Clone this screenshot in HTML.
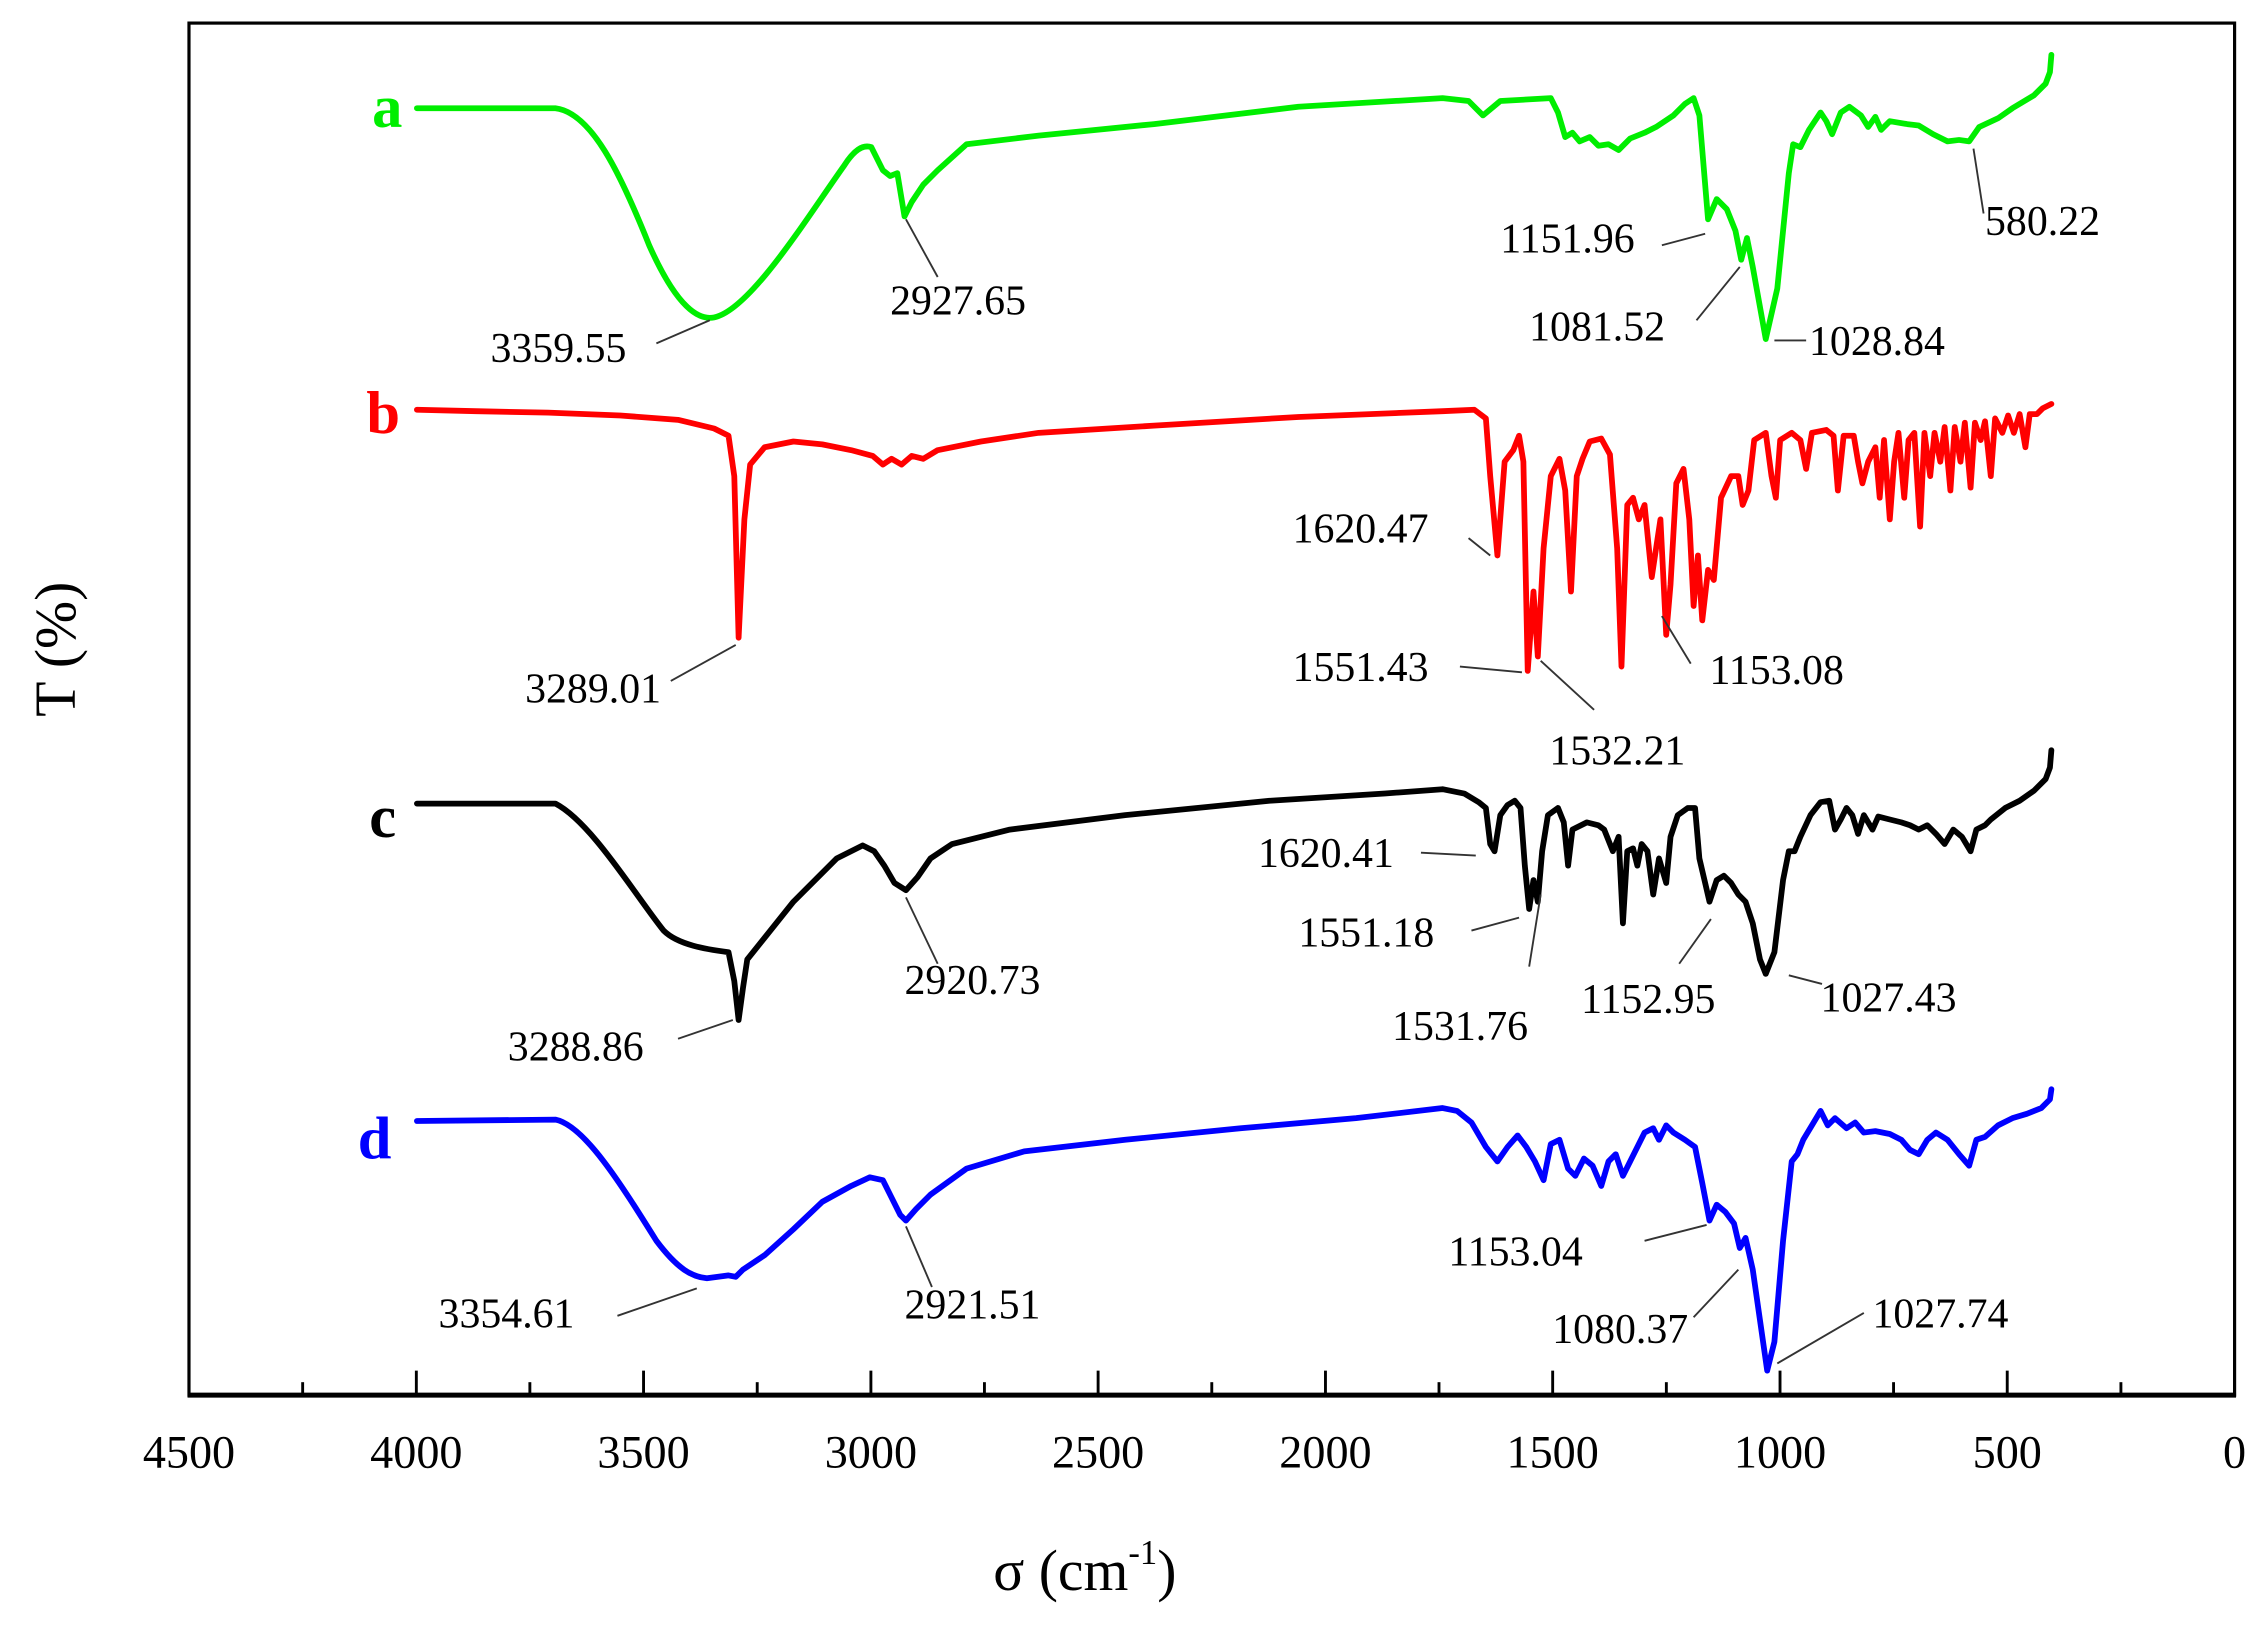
<!DOCTYPE html>
<html><head><meta charset="utf-8"><style>
html,body{margin:0;padding:0;background:#fff;}
svg{display:block;}
text{font-family:"Liberation Serif",serif;}
</style></head><body>
<svg width="2262" height="1626" viewBox="0 0 1568 1127" preserveAspectRatio="none" xmlns="http://www.w3.org/2000/svg">
<rect x="0" y="0" width="1568" height="1127" fill="#fff"/>
<rect x="131" y="16" width="1418" height="951" fill="none" stroke="#000" stroke-width="2.2"/>
<line x1="130" y1="967" x2="1550" y2="967" stroke="#000" stroke-width="3.5"/>
<g stroke="#000" stroke-width="2">
<line x1="131" y1="967" x2="131" y2="950"/><line x1="288.6" y1="967" x2="288.6" y2="950"/><line x1="446.1" y1="967" x2="446.1" y2="950"/><line x1="603.7" y1="967" x2="603.7" y2="950"/><line x1="761.2" y1="967" x2="761.2" y2="950"/><line x1="918.8" y1="967" x2="918.8" y2="950"/><line x1="1076.3" y1="967" x2="1076.3" y2="950"/><line x1="1233.9" y1="967" x2="1233.9" y2="950"/><line x1="1391.4" y1="967" x2="1391.4" y2="950"/>
<line x1="209.8" y1="967" x2="209.8" y2="958"/><line x1="367.3" y1="967" x2="367.3" y2="958"/><line x1="524.9" y1="967" x2="524.9" y2="958"/><line x1="682.4" y1="967" x2="682.4" y2="958"/><line x1="840" y1="967" x2="840" y2="958"/><line x1="997.5" y1="967" x2="997.5" y2="958"/><line x1="1155.1" y1="967" x2="1155.1" y2="958"/><line x1="1312.6" y1="967" x2="1312.6" y2="958"/><line x1="1470.2" y1="967" x2="1470.2" y2="958"/>
</g>
<g font-size="32" text-anchor="middle" fill="#000">
<text x="131" y="1017">4500</text><text x="288.6" y="1017">4000</text><text x="446.1" y="1017">3500</text><text x="603.7" y="1017">3000</text><text x="761.2" y="1017">2500</text><text x="918.8" y="1017">2000</text><text x="1076.3" y="1017">1500</text><text x="1233.9" y="1017">1000</text><text x="1391.4" y="1017">500</text><text x="1549" y="1017">0</text>
</g>
<text x="752" y="1102" font-size="40" text-anchor="middle">σ (cm<tspan font-size="24" dy="-18">-1</tspan><tspan dy="18">)</tspan></text>
<text transform="translate(52,450) rotate(-90)" font-size="40" text-anchor="middle">T (%)</text>
<g font-size="42" font-weight="bold">
<text x="258" y="88" fill="#00ee00">a</text>
<text x="254" y="300" fill="#ff0000">b</text>
<text x="256" y="580" fill="#000">c</text>
<text x="248" y="803" fill="#0000ff">d</text>
</g>
<g fill="none" stroke-width="4" stroke-linejoin="round" stroke-linecap="round">
<path stroke="#00ee00" d="M289,75 L385,75 C410,78 430,120 450,170 C470,215 485,222 495,220 C520,215 560,150 585,115 C592,104 598,100 604,102 L612,118 L617,122 L622,120 L627,150 L632,140 L640,128 L650,118 L670,100 L720,94 L800,86 L900,74 L1000,68 L1018,70 L1028,80 L1040,70 L1075,68 L1080,78 L1085,95 L1090,92 L1095,98 L1102,95 L1108,101 L1115,100 L1122,104 L1130,96 L1140,92 L1148,88 L1160,80 L1168,72 L1174,68 L1178,80 L1184,152 L1190,138 L1197,145 L1203,160 L1207,180 L1211,165 L1215,185 L1224,235 L1232,200 L1240,120 L1243,100 L1248,102 L1254,90 L1262,78 L1266,84 L1270,93 L1276,78 L1282,74 L1290,80 L1295,88 L1300,81 L1304,90 L1310,84 L1322,86 L1330,87 L1340,93 L1350,98 L1358,97 L1365,98 L1372,88 L1385,82 L1395,75 L1410,66 L1418,58 L1421,50 L1422,38"/>
<path stroke="#ff0000" d="M289,284 L330,285 L380,286 L430,288 L470,291 L495,297 L505,302 L509,330 L512,442 L516,360 L520,322 L530,310 L550,306 L570,308 L590,312 L605,316 L612,322 L618,318 L625,322 L632,316 L640,318 L650,312 L680,306 L720,300 L800,295 L900,289 L1000,285 L1022,284 L1030,290 L1033,330 L1038,385 L1043,320 L1049,312 L1053,302 L1056,320 L1059,465 L1063,410 L1066,455 L1070,380 L1075,330 L1081,318 L1085,340 L1089,410 L1093,330 L1097,318 L1102,306 L1110,304 L1116,315 L1121,380 L1124,462 L1128,350 L1132,345 L1136,360 L1140,350 L1145,400 L1151,360 L1155,440 L1158,405 L1162,335 L1167,325 L1171,360 L1174,420 L1177,385 L1180,430 L1184,395 L1188,402 L1193,345 L1200,330 L1205,330 L1208,350 L1212,340 L1216,305 L1224,300 L1228,330 L1231,345 L1234,305 L1242,300 L1248,305 L1252,325 L1256,300 L1266,298 L1271,302 L1274,340 L1278,302 L1285,302 L1288,320 L1291,335 L1295,320 L1300,310 L1303,345 L1306,305 L1310,360 L1313,320 L1316,300 L1320,345 L1323,305 L1327,300 L1331,365 L1334,300 L1338,330 L1341,300 L1345,320 L1348,296 L1352,340 L1355,296 L1359,320 L1362,293 L1366,338 L1369,293 L1373,305 L1376,292 L1380,330 L1383,290 L1388,300 L1392,288 L1396,300 L1400,287 L1404,310 L1407,287 L1412,287 L1416,283 L1422,280"/>
<path stroke="#000" d="M289,557 L385,557 C410,570 440,620 460,645 C470,655 490,658 505,660 L509,680 L512,707 L515,685 L518,665 L530,650 L550,625 L580,595 L598,586 L606,590 L613,600 L620,612 L628,617 L636,608 L645,595 L660,585 L700,575 L780,565 L880,555 L960,550 L1000,547 L1015,550 L1025,556 L1030,560 L1033,585 L1036,590 L1040,565 L1045,558 L1050,555 L1054,560 L1057,600 L1060,630 L1063,610 L1066,625 L1069,590 L1073,565 L1080,560 L1084,570 L1087,600 L1090,575 L1100,570 L1108,572 L1112,575 L1118,590 L1122,580 L1125,640 L1128,590 L1132,588 L1135,600 L1138,585 L1142,590 L1146,620 L1150,595 L1155,612 L1158,580 L1163,565 L1170,560 L1175,560 L1178,595 L1182,612 L1185,625 L1190,610 L1195,607 L1200,612 L1205,620 L1210,625 L1215,640 L1220,665 L1224,675 L1230,660 L1236,610 L1240,590 L1244,590 L1248,580 L1255,565 L1262,556 L1268,555 L1272,575 L1276,568 L1280,560 L1284,565 L1288,578 L1292,565 L1298,575 L1302,566 L1310,568 L1318,570 L1324,572 L1330,575 L1336,572 L1342,578 L1348,585 L1354,575 L1360,580 L1366,590 L1370,575 L1376,572 L1380,568 L1390,560 L1400,555 L1410,548 L1418,540 L1421,532 L1422,520"/>
<path stroke="#0000ff" d="M289,777 L385,776 C405,780 430,820 455,860 C470,880 480,885 490,886 L505,884 L510,885 L515,880 L530,870 L550,852 L570,833 L590,822 L603,816 L612,818 L618,830 L624,842 L628,846 L635,838 L645,828 L670,810 L710,798 L780,790 L860,782 L940,775 L1000,768 L1010,770 L1020,778 L1030,795 L1038,805 L1045,795 L1052,787 L1058,795 L1064,805 L1070,818 L1075,793 L1081,790 L1087,810 L1092,815 L1098,803 L1104,808 L1110,822 L1115,805 L1120,800 L1125,815 L1130,805 L1140,785 L1146,782 L1150,790 L1155,780 L1160,785 L1168,790 L1175,795 L1180,820 L1185,846 L1190,835 L1196,840 L1202,848 L1206,865 L1210,858 L1215,880 L1220,915 L1225,950 L1230,930 L1236,860 L1242,805 L1246,800 L1250,790 L1256,780 L1262,770 L1267,780 L1272,775 L1280,782 L1286,778 L1292,785 L1300,784 L1310,786 L1318,790 L1324,797 L1330,800 L1336,790 L1342,785 L1350,790 L1358,800 L1365,808 L1370,790 L1376,788 L1385,780 L1395,775 L1405,772 L1415,768 L1421,762 L1422,755"/>
</g>
<g stroke="#333" stroke-width="1.3" fill="none">
<line x1="455" y1="238" x2="492" y2="222"/>
<line x1="650" y1="192" x2="628" y2="152"/>
<line x1="1152" y1="170" x2="1182" y2="162"/>
<line x1="1176" y1="222" x2="1206" y2="185"/>
<line x1="1230" y1="236" x2="1252" y2="236"/>
<line x1="1375" y1="148" x2="1368" y2="103"/>
<line x1="465" y1="472" x2="510" y2="447"/>
<line x1="1018" y1="373" x2="1033" y2="385"/>
<line x1="1012" y1="462" x2="1055" y2="466"/>
<line x1="1105" y1="492" x2="1068" y2="458"/>
<line x1="1172" y1="460" x2="1152" y2="427"/>
<line x1="470" y1="720" x2="508" y2="707"/>
<line x1="650" y1="668" x2="628" y2="622"/>
<line x1="985" y1="591" x2="1023" y2="593"/>
<line x1="1020" y1="645" x2="1053" y2="636"/>
<line x1="1060" y1="670" x2="1068" y2="620"/>
<line x1="1164" y1="668" x2="1186" y2="637"/>
<line x1="1263" y1="682" x2="1240" y2="676"/>
<line x1="428" y1="912" x2="483" y2="893"/>
<line x1="646" y1="892" x2="628" y2="850"/>
<line x1="1140" y1="860" x2="1183" y2="849"/>
<line x1="1174" y1="913" x2="1205" y2="880"/>
<line x1="1232" y1="945" x2="1292" y2="910"/>
</g>
<g font-size="29" fill="#000">
<text x="340" y="251">3359.55</text>
<text x="617" y="218">2927.65</text>
<text x="1040" y="175">1151.96</text>
<text x="1060" y="236">1081.52</text>
<text x="1254" y="246">1028.84</text>
<text x="1376" y="163">580.22</text>
<text x="364" y="487">3289.01</text>
<text x="896" y="376">1620.47</text>
<text x="896" y="472">1551.43</text>
<text x="1074" y="530">1532.21</text>
<text x="1185" y="474">1153.08</text>
<text x="352" y="735">3288.86</text>
<text x="627" y="689">2920.73</text>
<text x="872" y="601">1620.41</text>
<text x="900" y="656">1551.18</text>
<text x="965" y="721">1531.76</text>
<text x="1096" y="702">1152.95</text>
<text x="1262" y="701">1027.43</text>
<text x="304" y="920">3354.61</text>
<text x="627" y="914">2921.51</text>
<text x="1004" y="877">1153.04</text>
<text x="1076" y="931">1080.37</text>
<text x="1298" y="920">1027.74</text>
</g>
</svg>
</body></html>
